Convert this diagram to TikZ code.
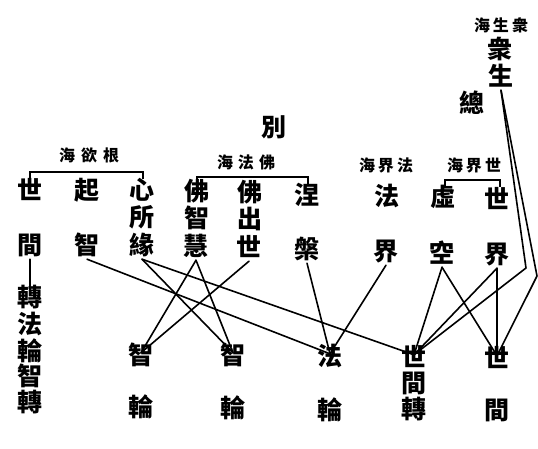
\documentclass[tikz,border=0pt]{standalone}
\usepackage{fontspec}
\newfontfamily\cjk{Noto Sans CJK TC}
\begin{document}
\begin{tikzpicture}[x=1pt,y=-1pt,
  big/.style={font=\cjk\bfseries\fontsize{25}{25}\selectfont, inner sep=3pt, text height=0.88em, text depth=0.12em},
  lab/.style={font=\cjk\bfseries\fontsize{16}{16}\selectfont, inner sep=1pt},
  ln/.style={line width=1.6pt, line cap=round, line join=round},
  brk/.style={line width=2pt}]
\useasboundingbox (0,0) rectangle (538,449);
\fill[white] (0,0) rectangle (538,449);

% top right
\node[lab] (lzs) at (501,25) {海\hspace{3pt}生\hspace{3pt}衆};
\node[big] (zhong) at (500,55) {衆};
\node[big] (sheng) at (501,82) {生};
\node[big] (zong) at (472,109) {總};
\node[big] (bie) at (274,133) {別};

% labels
\node[lab] (lgen) at (89,155) {海\hspace{6pt}欲\hspace{6pt}根};
\node[lab] (lfo) at (246,162) {海\hspace{5pt}法\hspace{5pt}佛};
\node[lab] (lfj) at (386,165) {海\hspace{3pt}界\hspace{3pt}法};
\node[lab] (lsj) at (474,165) {海\hspace{3pt}界\hspace{3pt}世};

% brackets
\coordinate (g1) at (30,179); \coordinate (g2) at (143,179);
\draw[brk] (g1) -- ++(0,-7) -| (g2);
\coordinate (f1) at (197,184); \coordinate (f2) at (308,184);
\draw[brk] (f1) -- ++(0,-7) -| (f2);
\coordinate (s1) at (445,187); \coordinate (s2) at (500,187);
\draw[brk] (s1) -- ++(0,-7) -| (s2);

% row 1
\node[big] (shi1) at (30,196) {世};
\node[big] (qi) at (87,196) {起};
\node[big] (xin) at (142,196) {心};
\node[big] (fo1) at (197,197) {佛};
\node[big] (fo2) at (250,198) {佛};
\node[big] (nie) at (307,201) {涅};
\node[big] (fa1) at (387,202) {法};
\node[big] (xu) at (443,203) {虛};
\node[big] (shi2) at (497,205) {世};
% row 2
\node[big] (suo) at (142,223) {所};
\node[big] (zhia) at (197,224) {智};
\node[big] (chu) at (250,225) {出};
% row 3
\node[big] (jian) at (30,251) {間};
\node[big] (qizhi) at (87,251) {智};
\node[big] (yuan) at (142,251) {緣};
\node[big] (hui) at (196,252) {慧};
\node[big] (chushi) at (249,253) {世};
\node[big] (pan) at (307,255) {槃};
\node[big] (jie1) at (386,257) {界};
\node[big] (kong) at (442,259) {空};
\node[big] (jie2) at (497,260) {界};

% left column
\node[big] (zh1) at (30,303) {轉};
\node[big] (lfa) at (30,330) {法};
\node[big] (llun) at (30,357) {輪};
\node[big] (lzhi) at (30,382) {智};
\node[big] (zh2) at (30,408) {轉};
\draw[ln] (jian.south) -- (zh1.north);

% bottom
\node[big] (zhi1) at (141,361) {智};
\node[big] (lun1) at (141,413) {輪};
\node[big] (zhi2) at (233,361) {智};
\node[big] (lun2) at (233,414) {輪};
\node[big] (fa3) at (330,362) {法};
\node[big] (lun3) at (330,416) {輪};
\node[big] (sj) at (414,363) {世};
\node[big] (sj2) at (414,389) {間};
\node[big] (sj3) at (414,415) {轉};
\node[big] (shi4) at (497,364) {世};
\node[big] (jian4) at (497,416) {間};

% bends
\coordinate (bA) at (526,268);
\coordinate (bB) at (537,276);

% connectors
\draw[ln] (qizhi.south) -- (fa3.north);
\draw[ln] (yuan.south) -- (sj.north);
\draw[ln] (yuan.south) -- (zhi2.north);
\draw[ln] (hui.south) -- (zhi1.north);
\draw[ln] (hui.south) -- (zhi2.north);
\draw[ln] (chushi.south) -- (zhi1.north);
\draw[ln] (pan.south) -- (fa3.north);
\draw[ln] (jie1.south) -- (fa3.north);
\draw[ln] (kong.south) -- (sj.north);
\draw[ln] (kong.south) -- (shi4.north);
\draw[ln] (jie2.south) -- (sj.north);
\draw[ln] (jie2.south) -- (shi4.north);
\draw[ln] (sheng.south) -- (bA) -- (sj.north);
\draw[ln] (sheng.south) -- (bB) -- (shi4.north);
\end{tikzpicture}
\end{document}
